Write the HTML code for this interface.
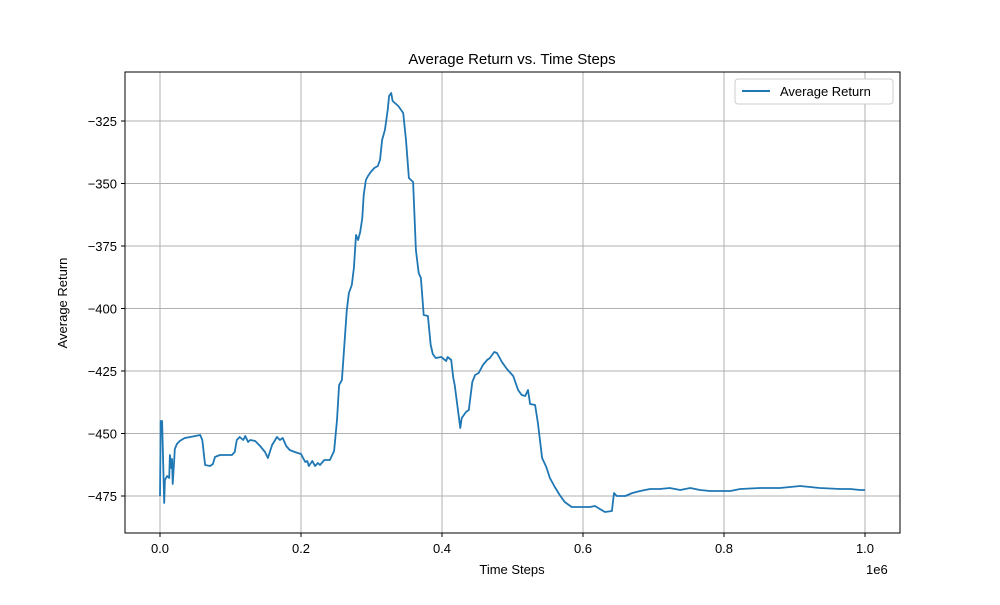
<!DOCTYPE html>
<html><head><meta charset="utf-8"><style>
body{margin:0;background:#fff;}
svg text{font-family:"Liberation Sans","DejaVu Sans",sans-serif;}
</style></head><body>
<svg id="chart" width="1000" height="600" xmlns="http://www.w3.org/2000/svg">
<rect width="1000" height="600" fill="#fff"/>
<text x="512" y="64" font-size="15" text-anchor="middle">Average Return vs. Time Steps</text>
<g id="grid"></g>
<g id="ticks"></g>
<path id="line" fill="none" stroke="#1f77b4" stroke-width="1.8" stroke-linejoin="round"/>
<rect x="125" y="72" width="775" height="461" fill="none" stroke="#000" stroke-width="1"/>
<text x="512" y="574" font-size="13" text-anchor="middle">Time Steps</text>
<text x="866" y="574" font-size="13">1e6</text>
<text transform="translate(67,303) rotate(-90)" font-size="13" text-anchor="middle">Average Return</text>
<g>
<rect x="735" y="79" width="158" height="25" rx="3" fill="#fff" stroke="#ccc"/>
<line x1="742" y1="91" x2="770" y2="91" stroke="#1f77b4" stroke-width="2"/>
<text x="780" y="96" font-size="13">Average Return</text>
</g>
</svg>
<script>
const xs=[0,1,3,6,7,10,13,14,16,17,18,20,21,24,28,35,43,50,57,60,64,71,75,78,85,102,106,109,113,118,121,125,128,135,142,149,153,159,166,170,174,179,184,191,200,206,209,211,216,220,224,227,233,241,247,251,254,258,262,265,268,272,275,278,281,284,287,289,292,295,299,304,309,312,315,319,323,325,328,330,338,345,349,353,359,363,367,370,374,380,384,387,391,399,406,408,413,416,418,423,426,428,434,438,443,447,452,458,464,468,474,478,485,492,501,508,513,518,522,525,532,536,542,548,553,560,567,574,584,596,610,617,624,631,641,644,648,660,670,681,695,709,723,738,752,766,780,809,823,851,879,894,908,922,936,965,979,993,1000];
const ys=[-475,-445,-445,-477.8,-468.6,-467,-467.8,-458.6,-463.8,-460.2,-470.2,-461.4,-456.2,-454.2,-453,-451.8,-451.4,-451,-450.6,-452.6,-462.6,-463,-462.2,-459.4,-458.6,-458.6,-457.4,-452.6,-451.4,-452.6,-451,-453.4,-452.6,-453,-455,-457.4,-459.8,-454.6,-451.4,-452.6,-451.8,-455,-456.6,-457.4,-458.2,-461.4,-461,-463,-461,-463,-461.8,-462.6,-460.6,-460.6,-457,-444.6,-430.6,-428.6,-412.6,-400.6,-393.8,-390.6,-383.8,-370.6,-372.6,-369.4,-363.8,-354.6,-348.6,-347,-345.4,-343.8,-343,-340.6,-332.6,-328.6,-320.6,-315,-313.8,-317,-319,-321.8,-332.6,-347.8,-349.4,-376.6,-385.8,-387.8,-402.6,-403,-414.6,-418.2,-419.8,-419.4,-421,-419.4,-420.6,-427.8,-430.6,-441.4,-447.8,-443.8,-441.4,-440.6,-429.4,-426.6,-425.8,-422.6,-420.6,-419.8,-417.4,-417.8,-421.4,-424.2,-427,-432.6,-434.6,-435,-432.6,-438.2,-438.6,-445.8,-459.8,-463.4,-467.8,-471.4,-474.6,-477.4,-479.4,-479.4,-479.4,-479,-480.2,-481.4,-481,-473.8,-475,-475,-473.8,-473,-472.2,-472.2,-471.8,-472.6,-471.8,-472.6,-473,-473,-472.2,-471.8,-471.8,-471.4,-471,-471.4,-471.8,-472.2,-472.2,-472.6,-472.6];
const xTicks=[0,0.2,0.4,0.6,0.8,1.0];
const yTicks=[-325,-350,-375,-400,-425,-450,-475];
const X=v=>160+v*705;            // v in 1e6
const Y=v=>121+(-325-v)*2.5;
const NS="http://www.w3.org/2000/svg";
const grid=document.getElementById('grid'),ticks=document.getElementById('ticks');
function mk(tag,attrs,parent,txt){const e=document.createElementNS(NS,tag);for(const k in attrs)e.setAttribute(k,attrs[k]);if(txt!==undefined)e.textContent=txt;parent.appendChild(e);return e;}
xTicks.forEach(t=>{const x=X(t);
 const g=mk('line',{x1:x,x2:x,y1:72,y2:533,stroke:'#b0b0b0','stroke-width':1},grid);
 
 
 mk('line',{x1:x,x2:x,y1:533,y2:537,stroke:'#000'},ticks);
 const l=mk('text',{x:x,y:553,'font-size':13,'text-anchor':'middle'},ticks,t.toFixed(1));
 
 
});
yTicks.forEach(t=>{const y=Y(t);
 const g=mk('line',{x1:125,x2:900,y1:y,y2:y,stroke:'#b0b0b0','stroke-width':1},grid);
 
 
 mk('line',{x1:121,x2:125,y1:y,y2:y,stroke:'#000'},ticks);
 const l=mk('text',{x:117,y:y+5,'font-size':13,'text-anchor':'end'},ticks,'\u2212'+Math.abs(t));
 
 
});
document.getElementById('line').setAttribute('d',xs.map((v,i)=>(i?'L':'M')+X(v/1000).toFixed(1)+' '+Y(ys[i]).toFixed(1)).join(''));
</script>
</body></html>
